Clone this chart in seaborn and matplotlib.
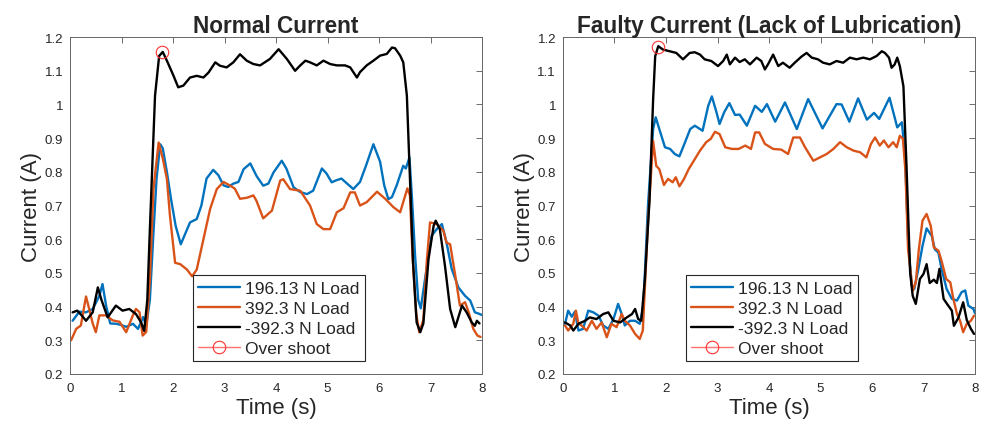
import numpy as np
import pandas as pd
import seaborn as sns
import matplotlib.pyplot as plt
from matplotlib.lines import Line2D

# ---- Normal current ----
nb_t = [0.05, 0.18, 0.31, 0.44, 0.57, 0.63, 0.70, 0.78, 0.90, 1.0, 1.09, 1.22, 1.32, 1.42, 1.48,
        1.55, 1.62, 1.68, 1.75, 1.80, 1.88, 1.96, 2.05, 2.15, 2.33, 2.46, 2.55, 2.65, 2.78, 2.88,
        2.98, 3.07, 3.17, 3.27, 3.37, 3.50, 3.62, 3.75, 3.85, 3.95, 4.11, 4.20, 4.34, 4.47, 4.60,
        4.72, 4.89, 4.98, 5.08, 5.17, 5.27, 5.38, 5.50, 5.63, 5.75, 5.89, 6.02, 6.10, 6.18, 6.25,
        6.34, 6.47, 6.52, 6.59, 6.64, 6.70, 6.76, 6.81, 6.93, 7.02, 7.12, 7.22, 7.31, 7.41, 7.54,
        7.67, 7.77, 7.86, 7.92, 8.0]
nb_i = [0.358, 0.385, 0.383, 0.393, 0.432, 0.467, 0.403, 0.35, 0.349, 0.345, 0.34, 0.349, 0.334, 0.369, 0.344,
        0.42, 0.62, 0.78, 0.882, 0.87, 0.80, 0.72, 0.64, 0.585, 0.65, 0.66, 0.70, 0.78, 0.806, 0.79,
        0.76, 0.755, 0.765, 0.77, 0.808, 0.825, 0.788, 0.759, 0.765, 0.798, 0.833, 0.81, 0.754, 0.74, 0.734,
        0.744, 0.81, 0.795, 0.769, 0.775, 0.78, 0.765, 0.749, 0.77, 0.82, 0.882, 0.83, 0.76, 0.719, 0.725,
        0.759, 0.818, 0.81, 0.843, 0.72, 0.55, 0.42, 0.395, 0.521, 0.61, 0.63, 0.645, 0.59, 0.512, 0.457,
        0.432, 0.418, 0.383, 0.38, 0.375]

no_t = [0.02, 0.12, 0.21, 0.31, 0.36, 0.44, 0.50, 0.57, 0.70, 0.83, 0.96, 1.09, 1.22, 1.28, 1.35,
        1.41, 1.48, 1.55, 1.62, 1.72, 1.80, 1.88, 1.94, 2.04, 2.14, 2.27, 2.37, 2.46, 2.59, 2.72,
        2.85, 2.98, 3.11, 3.20, 3.30, 3.43, 3.56, 3.62, 3.75, 3.92, 4.08, 4.14, 4.27, 4.47, 4.66,
        4.79, 4.92, 5.05, 5.18, 5.31, 5.44, 5.53, 5.63, 5.76, 5.96, 6.12, 6.28, 6.41, 6.55, 6.60,
        6.65, 6.72, 6.78, 6.86, 6.93, 6.99, 7.12, 7.25, 7.31, 7.38, 7.48, 7.57, 7.67, 7.74, 7.83,
        7.91, 7.97]
no_i = [0.30, 0.334, 0.344, 0.43, 0.40, 0.35, 0.324, 0.374, 0.374, 0.359, 0.355, 0.324, 0.374, 0.393, 0.383,
        0.314, 0.325, 0.48, 0.75, 0.887, 0.84, 0.78, 0.67, 0.53, 0.526, 0.51, 0.49, 0.51, 0.60, 0.69,
        0.749, 0.77, 0.759, 0.75, 0.72, 0.723, 0.73, 0.714, 0.662, 0.685, 0.774, 0.778, 0.749, 0.744, 0.70,
        0.645, 0.63, 0.63, 0.68, 0.692, 0.739, 0.739, 0.70, 0.71, 0.741, 0.72, 0.695, 0.68, 0.751, 0.73,
        0.55, 0.38, 0.324, 0.36, 0.541, 0.65, 0.645, 0.625, 0.59, 0.585, 0.492, 0.403, 0.413, 0.383, 0.334,
        0.314, 0.31]

nk_t = [0.05, 0.14, 0.22, 0.31, 0.44, 0.54, 0.61, 0.73, 0.89, 1.02, 1.15, 1.28, 1.38, 1.44, 1.50,
        1.55, 1.65, 1.73, 1.80, 1.88, 2.01, 2.10, 2.20, 2.33, 2.46, 2.59, 2.69, 2.82, 2.91, 3.04,
        3.17, 3.30, 3.43, 3.56, 3.69, 3.88, 4.05, 4.21, 4.37, 4.47, 4.57, 4.66, 4.79, 4.92, 5.05,
        5.18, 5.34, 5.44, 5.57, 5.63, 5.76, 5.89, 6.02, 6.15, 6.25, 6.31, 6.41, 6.47, 6.54, 6.60,
        6.66, 6.73, 6.80, 6.86, 6.96, 7.06, 7.10, 7.18, 7.28, 7.38, 7.48, 7.61, 7.70, 7.80, 7.86,
        7.90, 7.95]
nk_i = [0.383, 0.388, 0.375, 0.358, 0.383, 0.457, 0.42, 0.368, 0.403, 0.388, 0.393, 0.378, 0.353, 0.328, 0.42,
        0.63, 1.026, 1.144, 1.156, 1.13, 1.085, 1.051, 1.056, 1.08, 1.085, 1.08, 1.095, 1.125, 1.115, 1.11,
        1.125, 1.149, 1.13, 1.12, 1.116, 1.135, 1.164, 1.135, 1.10, 1.116, 1.13, 1.125, 1.116, 1.13, 1.12,
        1.116, 1.116, 1.11, 1.08, 1.096, 1.116, 1.13, 1.145, 1.15, 1.169, 1.167, 1.145, 1.125, 1.026, 0.779,
        0.531, 0.353, 0.324, 0.35, 0.541, 0.64, 0.655, 0.63, 0.521, 0.393, 0.339, 0.403, 0.383, 0.353, 0.343,
        0.358, 0.35]

# ---- Faulty current (lack of lubrication) ----
fb_t = [0.04, 0.10, 0.17, 0.23, 0.30, 0.39, 0.49, 0.59, 0.69, 0.78, 0.88, 0.98, 1.07, 1.14, 1.20,
        1.30, 1.40, 1.49, 1.56, 1.65, 1.75, 1.80, 1.87, 1.98, 2.08, 2.17, 2.26, 2.37, 2.47, 2.56,
        2.66, 2.71, 2.82, 2.89, 2.98, 3.04, 3.13, 3.23, 3.34, 3.43, 3.57, 3.73, 3.86, 3.96, 4.12,
        4.31, 4.54, 4.76, 5.04, 5.31, 5.41, 5.56, 5.73, 5.90, 6.04, 6.14, 6.34, 6.49, 6.58, 6.64,
        6.70, 6.77, 6.82, 6.90, 6.98, 7.06, 7.16, 7.22, 7.29, 7.35, 7.45, 7.55, 7.65, 7.74, 7.81,
        7.87, 7.97, 8.0]
fb_i = [0.349, 0.388, 0.37, 0.385, 0.329, 0.334, 0.388, 0.383, 0.373, 0.344, 0.334, 0.363, 0.408, 0.378, 0.344,
        0.358, 0.358, 0.349, 0.40, 0.70, 0.927, 0.962, 0.927, 0.873, 0.868, 0.853, 0.846, 0.888, 0.927, 0.937,
        0.927, 0.922, 0.996, 1.024, 0.977, 0.942, 0.977, 1.004, 0.969, 0.97, 0.937, 0.996, 0.978, 1.001, 0.949,
        1.006, 0.927, 1.016, 0.929, 1.001, 1.0, 0.949, 1.018, 0.955, 0.975, 0.957, 1.02, 0.932, 0.947, 0.85,
        0.60, 0.462, 0.452, 0.512, 0.58, 0.632, 0.61, 0.57, 0.56, 0.512, 0.452, 0.423, 0.418, 0.443, 0.448,
        0.403, 0.393, 0.38]

fo_t = [0.04, 0.10, 0.20, 0.25, 0.30, 0.36, 0.46, 0.56, 0.65, 0.75, 0.85, 0.94, 1.04, 1.14, 1.20,
        1.30, 1.40, 1.49, 1.55, 1.65, 1.75, 1.81, 1.87, 1.96, 2.04, 2.13, 2.19, 2.26, 2.35, 2.44,
        2.56, 2.66, 2.78, 2.87, 2.95, 3.04, 3.15, 3.28, 3.41, 3.54, 3.65, 3.73, 3.81, 3.92, 4.08,
        4.24, 4.37, 4.47, 4.60, 4.70, 4.86, 4.99, 5.12, 5.25, 5.38, 5.51, 5.64, 5.77, 5.89, 5.98,
        6.06, 6.15, 6.23, 6.32, 6.41, 6.48, 6.54, 6.60, 6.65, 6.70, 6.79, 6.85, 6.91, 6.98, 7.06,
        7.14, 7.20, 7.29, 7.35, 7.44, 7.52, 7.58, 7.65, 7.71, 7.77, 7.84, 7.92, 7.98]
fo_i = [0.344, 0.329, 0.349, 0.388, 0.35, 0.344, 0.329, 0.358, 0.334, 0.353, 0.309, 0.349, 0.339, 0.378, 0.358,
        0.344, 0.319, 0.304, 0.329, 0.65, 0.892, 0.818, 0.808, 0.761, 0.779, 0.769, 0.784, 0.757, 0.779, 0.808,
        0.838, 0.863, 0.888, 0.898, 0.919, 0.912, 0.873, 0.868, 0.868, 0.878, 0.868, 0.917, 0.917, 0.883, 0.868,
        0.866, 0.853, 0.902, 0.902, 0.873, 0.833, 0.843, 0.853, 0.868, 0.888, 0.873, 0.863, 0.858, 0.843, 0.883,
        0.902, 0.878, 0.893, 0.873, 0.888, 0.873, 0.907, 0.898, 0.80, 0.571, 0.447, 0.472, 0.571, 0.655, 0.675,
        0.64, 0.576, 0.566, 0.536, 0.482, 0.472, 0.423, 0.378, 0.358, 0.324, 0.349, 0.358, 0.373]

fk_t = [0.04, 0.14, 0.20, 0.30, 0.43, 0.52, 0.65, 0.78, 0.88, 0.98, 1.11, 1.24, 1.34, 1.40, 1.46,
        1.52, 1.59, 1.68, 1.75, 1.79, 1.85, 1.94, 2.07, 2.20, 2.33, 2.46, 2.56, 2.66, 2.75, 2.88,
        3.01, 3.11, 3.18, 3.24, 3.34, 3.43, 3.53, 3.63, 3.76, 3.85, 3.92, 3.98, 4.08, 4.18, 4.27,
        4.40, 4.50, 4.63, 4.73, 4.83, 4.95, 5.05, 5.18, 5.31, 5.44, 5.57, 5.70, 5.83, 5.96, 6.09,
        6.19, 6.25, 6.33, 6.38, 6.44, 6.49, 6.54, 6.61, 6.67, 6.74, 6.79, 6.85, 6.93, 7.00, 7.06,
        7.12, 7.20, 7.26, 7.31, 7.39, 7.48, 7.55, 7.59, 7.68, 7.77, 7.84, 7.92, 7.98]
fk_i = [0.353, 0.344, 0.329, 0.349, 0.358, 0.368, 0.363, 0.378, 0.383, 0.358, 0.353, 0.368, 0.378, 0.393, 0.363,
        0.358, 0.482, 0.717, 1.015, 1.143, 1.173, 1.163, 1.158, 1.153, 1.134, 1.153, 1.155, 1.148, 1.134, 1.129,
        1.114, 1.129, 1.148, 1.119, 1.139, 1.126, 1.134, 1.119, 1.139, 1.129, 1.104, 1.119, 1.148, 1.114, 1.124,
        1.109, 1.124, 1.142, 1.153, 1.139, 1.134, 1.124, 1.119, 1.129, 1.124, 1.139, 1.134, 1.139, 1.134, 1.144,
        1.158, 1.153, 1.139, 1.109, 1.119, 1.139, 1.114, 1.054, 0.816, 0.502, 0.432, 0.408, 0.482, 0.497, 0.526,
        0.47, 0.48, 0.47, 0.512, 0.423, 0.403, 0.388, 0.343, 0.368, 0.413, 0.36, 0.334, 0.319]

loads = ["196.13 N Load", "392.3 N Load", "-392.3 N Load"]
colors = ["#0072BD", "#D95319", "#000000"]
overshoot_normal = (1.79, 1.157)
overshoot_faulty = (1.84, 1.172)
titles = ["Normal Current", "Faulty Current (Lack of Lubrication)"]
y_ticks = [0.2, 0.3, 0.4, 0.5, 0.6, 0.7, 0.8, 0.9, 1.0, 1.1, 1.2]
y_ticklabels = ["0.2", "0.3", "0.4", "0.5", "0.6", "0.7", "0.8", "0.9", "1", "1.1", "1.2"]


def make_frame(series):
    parts = []
    for label, (t, i) in zip(loads, series):
        assert len(t) == len(i), label
        parts.append(pd.DataFrame({"Time": t, "Current": i, "Load": label}))
    return pd.concat(parts, ignore_index=True)


df_normal = make_frame([(nb_t, nb_i), (no_t, no_i), (nk_t, nk_i)])
df_faulty = make_frame([(fb_t, fb_i), (fo_t, fo_i), (fk_t, fk_i)])

sns.set_style("white")
plt.rcParams["font.family"] = ["Liberation Sans", "DejaVu Sans"]

fig = plt.figure(figsize=(9.81, 4.27), dpi=100)
ax1 = fig.add_axes([0.0714, 0.1218, 0.420, 0.789])
ax2 = fig.add_axes([0.5739, 0.1218, 0.420, 0.789])

palette = dict(zip(loads, colors))
for ax, df, title, osp in [(ax1, df_normal, titles[0], overshoot_normal),
                           (ax2, df_faulty, titles[1], overshoot_faulty)]:
    sns.lineplot(data=df, x="Time", y="Current", hue="Load", hue_order=loads,
                 palette=palette, sort=False, estimator=None, linewidth=1.7,
                 legend=False, ax=ax)
    ax.plot([osp[0]], [osp[1]], linestyle="none", marker="o", ms=9,
            mfc="none", mec="#ff3030", mew=0.8)

    ax.set_xlim(0, 8)
    ax.set_ylim(0.2, 1.2)
    ax.set_xticks(range(9))
    ax.set_yticks(y_ticks)
    ax.set_yticklabels(y_ticklabels)
    ax.tick_params(direction="in", top=True, right=True, length=4, width=0.6,
                   color="#555555", labelcolor="#262626", labelsize=9.5, pad=5)
    ax.tick_params(axis="x", pad=6)
    for sp in ax.spines.values():
        sp.set_color("#666666")
        sp.set_linewidth(0.7)
    ax.set_xlabel("Time (s)", fontsize=16, color="#262626", labelpad=2)
    ax.set_ylabel("Current (A)", fontsize=16, color="#262626", labelpad=2)
    ax.set_title(title, fontsize=16.3, fontweight="bold", pad=4)

    handles = [Line2D([], [], color=c, lw=1.7) for c in colors]
    handles.append(Line2D([], [], color="#ff7070", lw=1, marker="o", ms=9,
                          mfc="none", mec="#ff3030", mew=0.8))
    leg = ax.legend(handles, loads + ["Over shoot"], loc="lower left",
                    bbox_to_anchor=(0.2985, 0.0386), borderaxespad=0,
                    fontsize=12.5, frameon=True, fancybox=False, framealpha=1,
                    edgecolor="#262626", handlelength=2.4, handletextpad=0.3,
                    labelspacing=0.28, borderpad=0.3)
    leg.get_frame().set_linewidth(0.8)

fig.savefig("out.png", dpi=100)
